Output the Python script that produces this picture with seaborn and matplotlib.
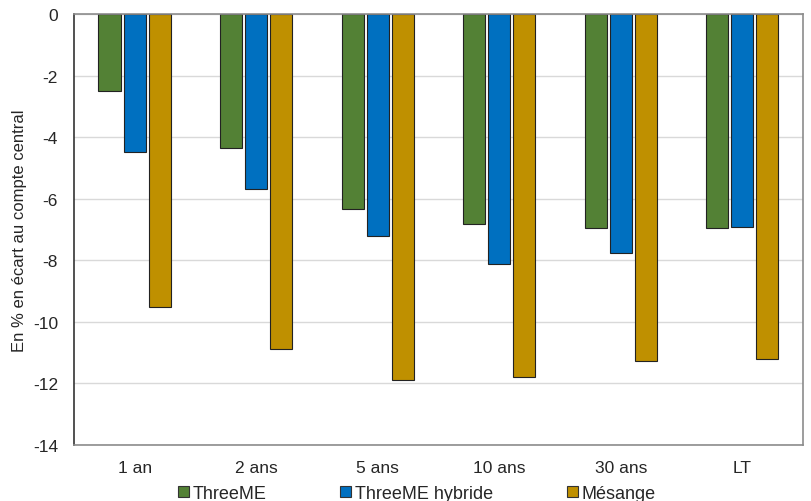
import matplotlib
matplotlib.use("Agg")
import matplotlib.pyplot as plt
import seaborn as sns
import pandas as pd

categories = ["1 an", "2 ans", "5 ans", "10 ans", "30 ans", "LT"]
threeme = [-2.5, -4.35, -6.33, -6.82, -6.95, -6.95]
threeme_hybride = [-4.48, -5.68, -7.21, -8.12, -7.76, -6.92]
mesange = [-9.51, -10.88, -11.88, -11.79, -11.27, -11.2]
series_names = ["ThreeME", "ThreeME hybride", "Mésange"]
colors = ["#538135", "#0070C0", "#BF9000"]

rows = []
for name, vals in zip(series_names, [threeme, threeme_hybride, mesange]):
    for c, v in zip(categories, vals):
        rows.append({"cat": c, "serie": name, "val": v})
df = pd.DataFrame(rows)

sns.set_style("white")
plt.rcParams["font.family"] = ["Liberation Sans", "DejaVu Sans"]

fig = plt.figure(figsize=(8.12, 5.02), dpi=100)
ax = fig.add_axes([0.091, 0.1116, 0.898, 0.8586])

sns.barplot(data=df, x="cat", y="val", hue="serie", order=categories,
            hue_order=series_names, palette=colors, width=0.62, gap=0.12,
            edgecolor="#222222", linewidth=0.8, ax=ax, saturation=1)

ax.set_ylim(-14, 0)
ax.set_yticks(range(-14, 1, 2))
ax.set_yticklabels([str(v) for v in range(-14, 1, 2)], fontsize=12.5)
ax.tick_params(axis="x", labelsize=12.5, pad=7)
ax.tick_params(axis="y", pad=8)
ax.set_xlabel("")
ax.set_ylabel("En % en écart au compte central", fontsize=12)
ax.yaxis.grid(True, color="#d9d9d9", linewidth=1)
ax.set_axisbelow(True)
for s in ["top", "right", "bottom"]:
    ax.spines[s].set_color("#8c8c8c")
    ax.spines[s].set_linewidth(1.2)
ax.spines["left"].set_color("#333333")
ax.spines["left"].set_linewidth(1.2)

leg = ax.legend(loc="upper left", bbox_to_anchor=(0.1427, -0.093), ncol=3, frameon=False,
                fontsize=13, handlelength=0.6, handleheight=0.6, handletextpad=0.2,
                columnspacing=4.1, borderaxespad=0, borderpad=0)
for h in leg.legend_handles:
    h.set_edgecolor("#333333")
    h.set_linewidth(0.8)

fig.savefig("out.png", dpi=100)
